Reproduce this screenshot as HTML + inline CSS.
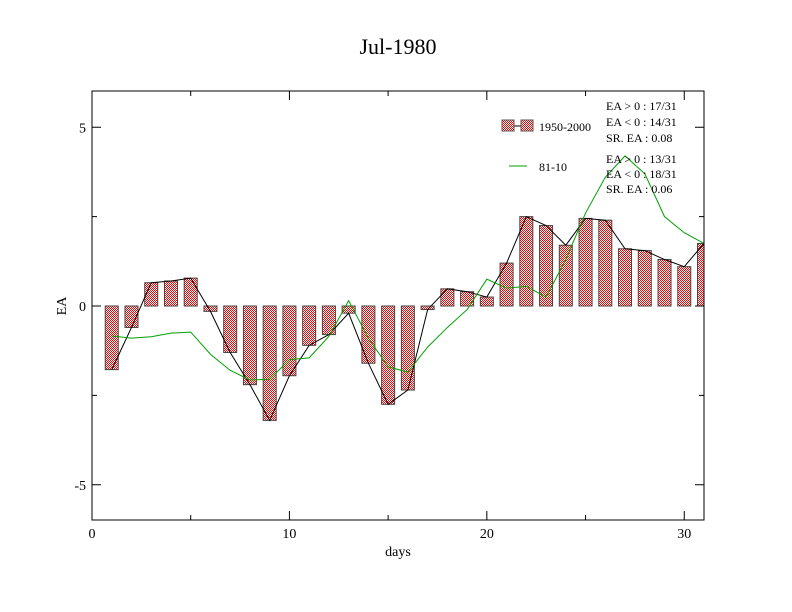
<!DOCTYPE html>
<html><head><meta charset="utf-8"><style>
body{margin:0;background:#fff;}
svg{display:block;font-family:"Liberation Serif",serif;}
</style></head><body>
<svg id="chart" width="792" height="612" viewBox="0 0 792 612">
<defs>
<pattern id="chk" width="2" height="2" patternUnits="userSpaceOnUse">
<rect width="2" height="2" fill="#fff"/><rect width="1" height="1" fill="#f00"/><rect x="1" y="1" width="1" height="1" fill="#f00"/>
</pattern>
<clipPath id="clip"><rect x="92" y="91" width="612" height="429"/></clipPath>
</defs>
<rect width="792" height="612" fill="#fff"/>
<text x="398" y="54" font-size="22" text-anchor="middle">Jul-1980</text>
<g id="plot" clip-path="url(#clip)"></g>
<rect x="92" y="91" width="612" height="429" fill="none" stroke="#000" stroke-width="1"/>
<g id="axes"></g>
<text x="398" y="556" font-size="14" text-anchor="middle">days</text>
<text x="66" y="306" font-size="14" text-anchor="middle" transform="rotate(-90 66 306)">EA</text>
<g font-size="12">
<line x1="508" y1="126" x2="530" y2="126" stroke="#000"/>
<rect x="502" y="120" width="12" height="11" fill="url(#chk)" stroke="#555"/>
<rect x="521" y="120" width="12" height="11" fill="url(#chk)" stroke="#555"/>
<text x="539" y="131">1950-2000</text>
<line x1="509" y1="166" x2="527" y2="166" stroke="#00a000"/>
<text x="539" y="171">81-10</text>
<g font-size="12">
<text x="606" y="110">EA &gt; 0 : 17/31</text>
<text x="606" y="126">EA &lt; 0 : 14/31</text>
<text x="606" y="142">SR. EA :  0.08</text>
<text x="606" y="163">EA &gt; 0 : 13/31</text>
<text x="606" y="178">EA &lt; 0 : 18/31</text>
<text x="606" y="193">SR. EA :  0.06</text>
</g>
</g>
</svg>
<script>
const days = [1,2,3,4,5,6,7,8,9,10,11,12,13,14,15,16,17,18,19,20,21,22,23,24,25,26,27,28,29,30,31];
const eaValues = [-1.78,-0.6,0.65,0.7,0.78,-0.15,-1.3,-2.2,-3.2,-1.95,-1.1,-0.8,-0.2,-1.6,-2.75,-2.35,-0.1,0.48,0.4,0.25,1.2,2.5,2.25,1.7,2.45,2.4,1.6,1.55,1.3,1.1,1.75];
const climValues = [-0.84,-0.9,-0.86,-0.76,-0.73,-1.35,-1.8,-2.07,-2.05,-1.5,-1.45,-0.85,0.15,-0.9,-1.7,-1.85,-1.15,-0.6,-0.1,0.75,0.5,0.55,0.25,1.3,2.6,3.6,4.2,3.7,2.5,2.05,1.75];
const xTicks = [0,10,20,30];
const yTicks = [-5,0,5];
const NS="http://www.w3.org/2000/svg";
const xs = d => 92 + d*(612/31);
const ys = v => 306 - v*35.75;
function mk(tag, attrs, parent){const e=document.createElementNS(NS,tag);for(const k in attrs)e.setAttribute(k,attrs[k]);parent.appendChild(e);return e;}
const plot=document.getElementById('plot'), axes=document.getElementById('axes');
days.forEach((d,i)=>{
  const v=eaValues[i], y0=ys(0), y1=ys(v);
  const r=mk('rect',{x:xs(d)-6.5,y:Math.min(y0,y1),width:13,height:Math.max(1,Math.abs(y1-y0)),fill:'url(#chk)',stroke:'#444','stroke-width':1},plot);
  
  
});
const bl=mk('polyline',{points:days.map((d,i)=>xs(d)+','+ys(eaValues[i])).join(' '),fill:'none',stroke:'#000','stroke-width':1},plot);


const gl=mk('polyline',{points:days.map((d,i)=>xs(d)+','+ys(climValues[i])).join(' '),fill:'none',stroke:'#00a000','stroke-width':1},plot);


xTicks.forEach(t=>{
  const x=xs(t);
  mk('line',{x1:x,y1:520,x2:x,y2:511,stroke:'#000'},axes);
  mk('line',{x1:x,y1:91,x2:x,y2:100,stroke:'#000'},axes);
  const tx=mk('text',{x:x,y:538,'font-size':14,'text-anchor':'middle'},axes);
  tx.textContent=t;
  
  
});
for(let t=5;t<31;t+=10){const x=xs(t);mk('line',{x1:x,y1:520,x2:x,y2:515,stroke:'#000'},axes);mk('line',{x1:x,y1:91,x2:x,y2:96,stroke:'#000'},axes);}
yTicks.forEach(t=>{
  const y=ys(t);
  mk('line',{x1:92,y1:y,x2:101,y2:y,stroke:'#000'},axes);
  mk('line',{x1:704,y1:y,x2:695,y2:y,stroke:'#000'},axes);
  const tx=mk('text',{x:86,y:y+5,'font-size':14,'text-anchor':'end'},axes);
  tx.textContent=t;
  
  
});
[-2.5,2.5].forEach(t=>{const y=ys(t);mk('line',{x1:92,y1:y,x2:97,y2:y,stroke:'#000'},axes);mk('line',{x1:704,y1:y,x2:699,y2:y,stroke:'#000'},axes);});
</script>
</body></html>
